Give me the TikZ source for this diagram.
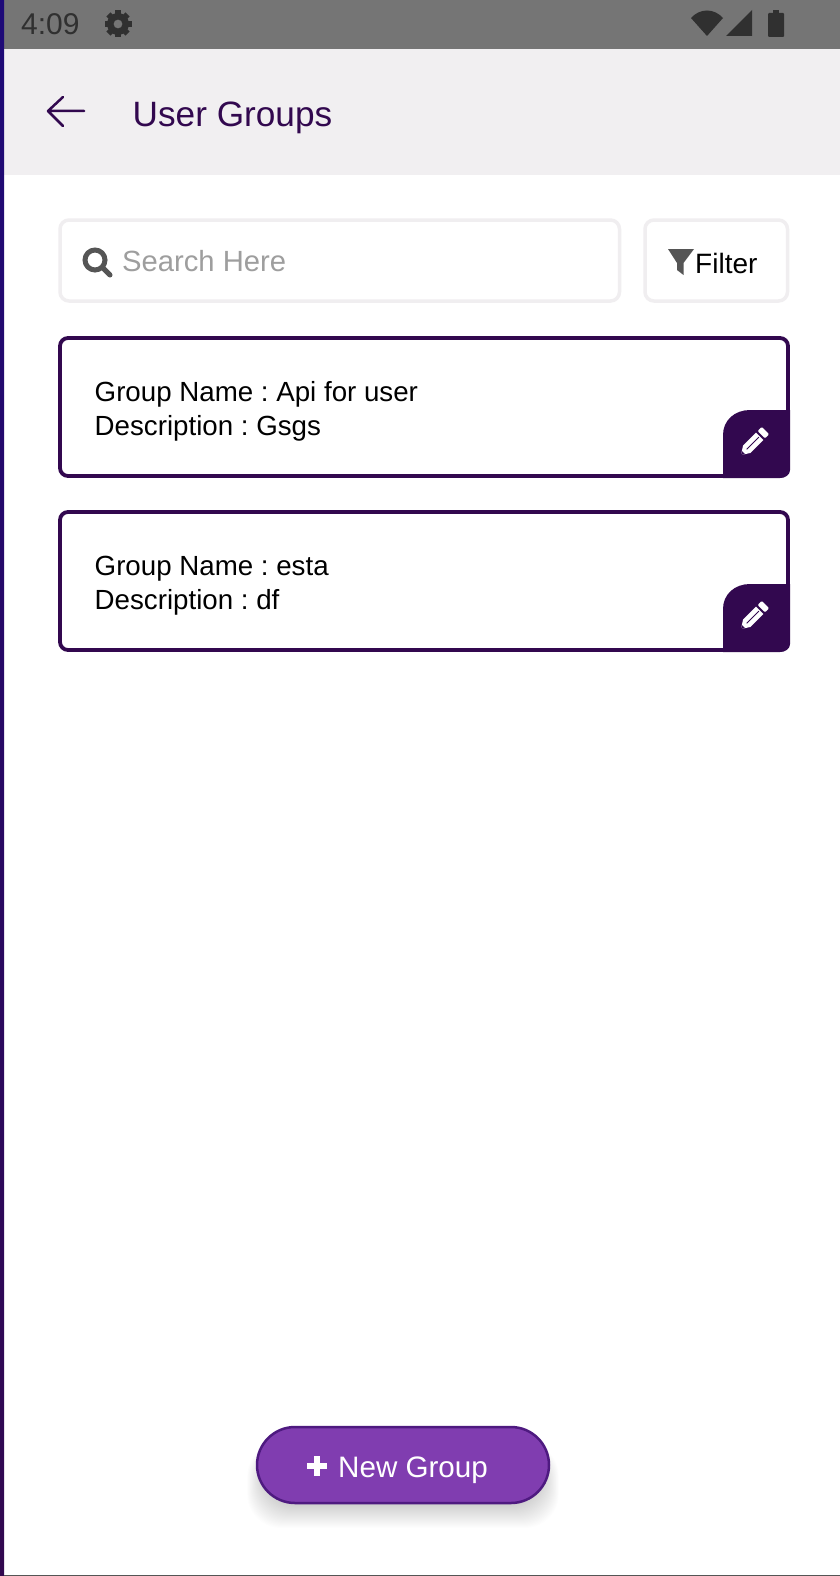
\documentclass[tikz,border=0pt]{standalone}
\usepackage{fontspec}
\setmainfont{Liberation Sans}
\frenchspacing
\usepackage{tikz}
\usetikzlibrary{positioning,calc}
\definecolor{deep}{HTML}{32084F}
\definecolor{barfill}{HTML}{F1EFF1}
\definecolor{statusbar}{HTML}{757575}
\definecolor{statusink}{HTML}{303030}
\definecolor{boxline}{HTML}{F0EEF0}
\definecolor{iconink}{HTML}{555555}
\definecolor{btnfill}{HTML}{803DB0}
\definecolor{btnline}{HTML}{4E1A80}
\definecolor{edgetop}{HTML}{1E0A78}
\tikzset{
  txt/.style={anchor=base west,inner sep=0pt,font=\fontsize{#1}{#1}\selectfont},
  softbox/.style={draw=boxline,line width=3.5pt,rounded corners=9pt,fill=white},
  card/.style={draw=deep,line width=3.8pt,rounded corners=8pt,fill=white},
  pencil/.pic={
    \begin{scope}[rotate=45,scale=1.15]
      \fill[white] (-9,-4.5) -- (7,-4.5) -- (7,4.5) -- (-9,4.5) -- (-16,0) -- cycle;
      \fill[white,rounded corners=1pt] (9,-4.5) rectangle (14,4.5);
      \fill[deep] (-16,0) -- (-13,-1.9) -- (-13,1.9) -- cycle;
      \draw[deep,line width=0.8pt] (-9,0) -- (6,0);
    \end{scope}
  },
}
\begin{document}
\begin{tikzpicture}[x=1pt,y=-1pt]
  \useasboundingbox (0,0) rectangle (840,1576);
  \fill[white] (0,0) rectangle (840,1576);
  % status bar
  \fill[statusbar] (4,0) rectangle (840,49);
  \fill[barfill] (4,49.5) rectangle (840,175);
  \shade[top color=edgetop,bottom color=deep] (0,0) rectangle (4,1576);
  \fill[iconink] (4,1575) rectangle (840,1576);
  \node[txt=30,text=statusink] (clock) at (21,35) {4:09};
  \foreach \a in {0,45,...,315}
    \fill[statusink,rotate around={\a:(118,24)}] (115,10.5) rectangle (121,16);
  \fill[statusink,even odd rule] (118,24) circle (11) (118,24) circle (4.5);
  \fill[statusink] (707,36) -- (691,18) .. controls (700,8) and (714,8) .. (723,18) -- cycle;
  \fill[statusink] (726,36) -- (752,10) -- (752,36) -- cycle;
  \fill[statusink,rounded corners=1pt] (768,13) rectangle (784,37);
  \fill[statusink] (773,10) rectangle (779,14);
  % app bar
  \draw[deep,line width=2.5pt,line join=round,line cap=round] (84,111) -- (48,111) (63,97) -- (48,111) -- (63,126);
  \node[txt=35.2,text=deep] (title) at (132.5,127) {User Groups};
  % search row
  \draw[softbox] (60,220) rectangle (619.5,301);
  \draw[iconink,line width=5pt] (95,260) circle (10);
  \draw[iconink,line width=5pt,line cap=round] (103,268) -- (110,275);
  \node[txt=29.2,text=black!38] (search) at (122,271.5) {Search Here};
  \draw[softbox] (645,220) rectangle (787.5,301);
  \fill[iconink] (668,249) -- (694,249) -- (683.5,263) -- (683.5,275) -- (677,270) -- (677,263) -- cycle;
  \node[txt=28] (filter) at (695,273) {Filter};
  % group cards
  \foreach \dy/\nm/\ds/\id in {0/Api for user/Gsgs/one,174/esta/df/two}{
    \begin{scope}[yshift=-\dy pt]
      \draw[card] (60,338) rectangle (788,476);
      \fill[deep] (723,478) -- (723,435) .. controls (723,420) and (735,410) .. (750,410)
        -- (790,410) -- (790,470) .. controls (790,475) and (785,478) .. (780,478) -- cycle;
      \pic at (754,442) {pencil};
      \node[txt=27.7] (name\id) at (94.5,401) {Group Name : \nm};
      \node[txt=27.7] (desc\id) at (94.5,435) {Description : \ds};
    \end{scope}
  }
  % new group button
  \foreach \i in {1,...,24}
    \fill[black,opacity=0.009,rounded corners=34pt] ($(264,1452)+(-0.7*\i,-0.4*\i)$) rectangle ($(542,1504)+(0.7*\i,\i)$);
  \draw[draw=btnline,line width=2.5pt,fill=btnfill,rounded corners=38pt] (257,1427) rectangle (549,1503);
  \draw[white,line width=6.5pt] (307,1466) -- (327,1466) (317,1456) -- (317,1476);
  \node[txt=29.6,text=white] (newgroup) at (338,1477) {New Group};
\end{tikzpicture}
\end{document}
